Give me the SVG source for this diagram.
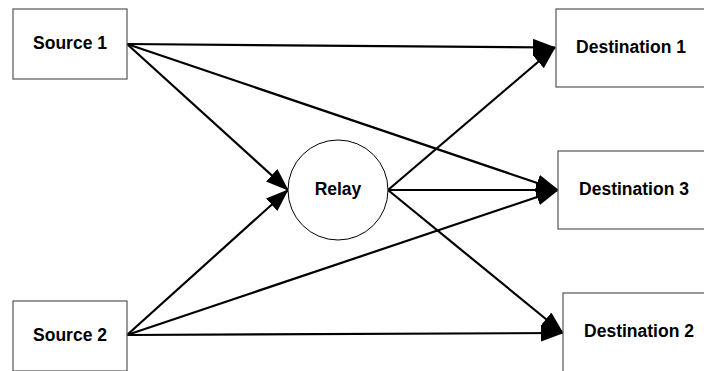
<svg xmlns="http://www.w3.org/2000/svg" width="704" height="371" viewBox="0 0 704 371">
<style>
.box{fill:#fff;stroke:#555;stroke-width:1.2}
.lbl{font-family:"Liberation Sans",Arial,sans-serif;font-weight:bold;font-size:17.5px;fill:#000;text-anchor:middle}
.edge{stroke:#000;stroke-width:2.2;fill:none;marker-end:url(#ah)}
</style>
<defs>
<marker id="ah" markerUnits="userSpaceOnUse" markerWidth="26" markerHeight="18" refX="22" refY="8.5" orient="auto">
<path d="M0,0 L23,8.5 L0,17 z" fill="#000"/>
</marker>
</defs>
<rect width="704" height="371" fill="#fff"/>
<g id="connectors">
<line class="edge" x1="127" y1="44" x2="555" y2="47.5"/>
<line class="edge" x1="127" y1="44" x2="558" y2="190"/>
<line class="edge" x1="127" y1="44" x2="288" y2="190"/>
<line class="edge" x1="127" y1="335" x2="288" y2="190"/>
<line class="edge" x1="127" y1="335" x2="558" y2="190"/>
<line class="edge" x1="127" y1="335" x2="563" y2="333"/>
<line class="edge" x1="388" y1="190" x2="555" y2="47.5"/>
<line class="edge" x1="388" y1="190" x2="558" y2="190"/>
<line class="edge" x1="388" y1="190" x2="563" y2="333"/>
</g>
<g id="source1"><rect class="box" x="13" y="9" width="114" height="70"/><text class="lbl" x="70" y="49">Source 1</text></g>
<g id="source2"><rect class="box" x="13" y="301" width="114" height="70"/><text class="lbl" x="70" y="341">Source 2</text></g>
<g id="relay"><circle cx="338" cy="190" r="50" fill="#fff" stroke="#000" stroke-width="1"/><text class="lbl" x="338" y="195">Relay</text></g>
<g id="dest1"><rect class="box" x="556" y="9" width="152" height="78"/><text class="lbl" x="631" y="53">Destination 1</text></g>
<g id="dest3"><rect class="box" x="558" y="151" width="152" height="78"/><text class="lbl" x="634" y="195">Destination 3</text></g>
<g id="dest2"><rect class="box" x="563" y="293" width="152" height="80"/><text class="lbl" x="639" y="337">Destination 2</text></g>
</svg>
